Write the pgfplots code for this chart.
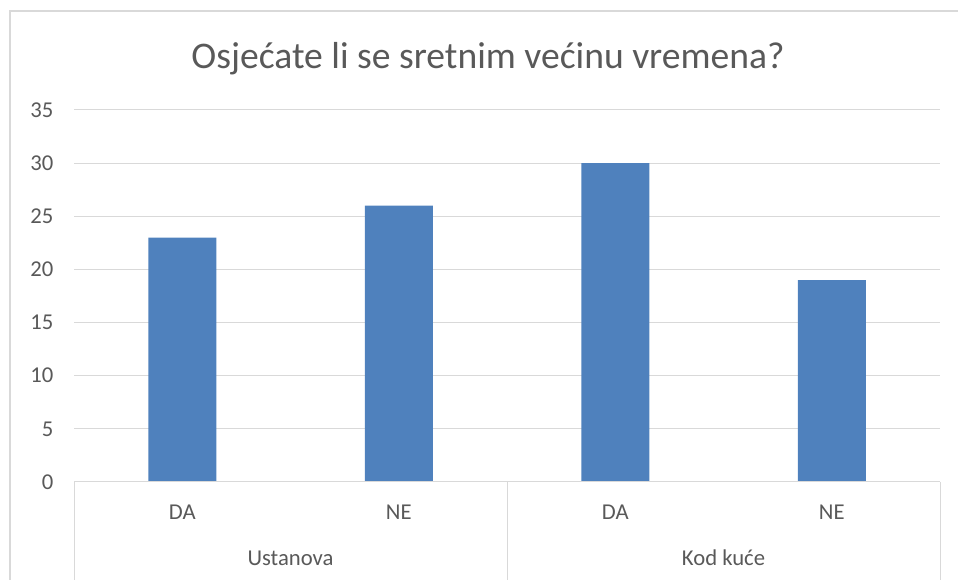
\documentclass[border=0pt]{standalone}
\usepackage{pgfplots}
\pgfplotsset{compat=1.18}
\usepackage{fontspec}
\setmainfont{Carlito}
\definecolor{barblue}{HTML}{4F81BD}
\definecolor{gridgray}{HTML}{D9D9D9}
\definecolor{txtgray}{HTML}{595959}
\begin{document}
\begin{tikzpicture}[x=0.75pt,y=-0.75pt]
\useasboundingbox (0,0) rectangle (958,580);
\draw[gridgray, line width=1.5pt] (9.5,580) -- (9.5,11.5) -- (958,11.5);
\node[anchor=base, text=txtgray, font=\fontsize{28.2}{32}\selectfont] at (488,69) {Osjećate li se sretnim većinu vremena?};
\coordinate (AX) at (74,482);
\begin{axis}[
  at={(AX)}, anchor=south west,
  scale only axis, width=649.5pt, height=279pt,
  xmin=0, xmax=4, ymin=0, ymax=35,
  ytick={0,5,...,35},
  xtick={0.5,1.5,2.5,3.5},
  xticklabels={DA,NE,DA,NE},
  major tick length=0pt,
  axis line style={draw=none},
  ymajorgrids, grid style={gridgray, line width=0.75pt},
  tick label style={text=txtgray, font=\fontsize{17}{20}\selectfont},
  /pgf/number format/assume math mode=true,
  yticklabel style={anchor=east, xshift=-12pt},
  xticklabel style={anchor=base, yshift=-28pt},
  clip=false,
]
\addplot[ybar, bar width=51pt, fill=barblue, draw=none] coordinates {(0.5,23) (1.5,26) (2.5,30) (3.5,19)};
\draw[gridgray, line width=0.75pt] (axis cs:0,0) -- (axis cs:4,0);
\draw[gridgray, line width=0.75pt] (axis cs:0,0) -- ++(0,-73.5pt);
\draw[gridgray, line width=0.75pt] (axis cs:2,0) -- ++(0,-73.5pt);
\draw[gridgray, line width=0.75pt] (axis cs:4,0) -- ++(0,-73.5pt);
\node[anchor=base, text=txtgray, font=\fontsize{17}{20}\selectfont] at ([yshift=-63pt]axis cs:1,0) {Ustanova};
\node[anchor=base, text=txtgray, font=\fontsize{17}{20}\selectfont] at ([yshift=-63pt]axis cs:3,0) {Kod kuće};
\end{axis}
\end{tikzpicture}
\end{document}
